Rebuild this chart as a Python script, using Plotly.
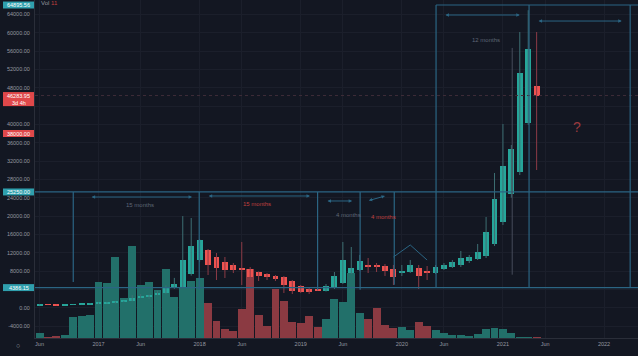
import plotly.graph_objects as go

# ---------------- data ----------------
months = [
    "2016-06", "2016-07", "2016-08", "2016-09", "2016-10", "2016-11", "2016-12",
    "2017-01", "2017-02", "2017-03", "2017-04", "2017-05", "2017-06", "2017-07",
    "2017-08", "2017-09", "2017-10", "2017-11", "2017-12",
    "2018-01", "2018-02", "2018-03", "2018-04", "2018-05", "2018-06", "2018-07",
    "2018-08", "2018-09", "2018-10", "2018-11", "2018-12",
    "2019-01", "2019-02", "2019-03", "2019-04", "2019-05", "2019-06", "2019-07",
    "2019-08", "2019-09", "2019-10", "2019-11", "2019-12",
    "2020-01", "2020-02", "2020-03", "2020-04", "2020-05", "2020-06", "2020-07",
    "2020-08", "2020-09", "2020-10", "2020-11", "2020-12",
    "2021-01", "2021-02", "2021-03", "2021-04", "2021-05",
]
open_ = [530, 670, 625, 575, 610, 700, 745,
         965, 1000, 1190, 1300, 1450, 2150, 2550, 2850, 3300, 4300, 4520, 7350,
         10400, 12590, 11060, 9970, 9320, 8660, 8440, 7790, 7350, 6920, 6700, 5820,
         4730, 4080, 3970, 3640, 4300, 5390, 7570, 8220, 9320, 9320, 9100, 8440,
         7570, 7790, 8660, 7790, 7570, 8440, 8880, 9320, 10190, 10620, 11280, 13900,
         18700, 24800, 29610, 40300, 48360]
high = [760, 700, 630, 630, 720, 750, 980,
        1150, 1200, 1350, 1500, 2750, 2980, 2900, 3700, 4900, 6500, 19990, 19570,
        15000, 12800, 11930, 11060, 9750, 14330, 8880, 7900, 7570, 7130, 6920, 6040,
        4950, 4300, 4190, 5170, 7790, 14330, 13240, 11500, 10840, 9750, 9530, 9320,
        9320, 10400, 9320, 9100, 9320, 9750, 10400, 12370, 11500, 13900, 19790, 29390,
        40080, 35500, 60140, 64895.56, 60140]
low = [520, 610, 530, 570, 600, 690, 740,
       750, 920, 890, 1200, 1400, 2100, 1850, 2700, 2950, 4100, 4400, 7000,
       10000, 7130, 6040, 6480, 7570, 4950, 6260, 5820, 6040, 5820, 3210, 2990,
       3210, 2990, 3750, 3530, 4080, 5170, 7350, 8000, 7570, 7790, 6920, 4950,
       6920, 7570, 4080, 6040, 7350, 8220, 8660, 8880, 9750, 10400, 10840, 13460,
       18040, 24000, 28950, 39860, 30040]
close = [670, 625, 575, 610, 700, 745, 960,
         1000, 1190, 1300, 1450, 2150, 2550, 2850, 3300, 4300, 5200, 10400, 13450,
         14770, 9320, 8660, 8220, 8220, 8220, 6700, 6920, 6700, 6260, 4950, 3640,
         3420, 3420, 3780, 4730, 6920, 10400, 8660, 10190, 8880, 8880, 8000, 6700,
         8000, 9320, 6920, 7570, 8880, 9320, 9970, 10840, 11060, 12150, 16510, 23710,
         30910, 34620, 51210, 56440, 46283.95]
volume = [5, 1, 2, 3, 21, 22, 23,
          56, 55, 81, 40, 92, 53, 56, 48, 69, 41, 51, 57,
          60, 35, 17, 9, 7, 29, 69, 23, 12, 49, 37, 16,
          15, 22, 11, 19, 39, 36, 65, 25, 19, 30, 13, 10,
          11, 8, 16, 12, 8, 5, 3, 3, 2, 4, 9, 10,
          9, 5, 1, 1, 1]

x_tick_months = ["2016-06", "2017-01", "2017-06", "2018-01", "2018-06", "2019-01",
                 "2019-06", "2020-01", "2020-06", "2021-01", "2021-06", "2022-01"]
x_tick_labels = ["Jun", "2017", "Jun", "2018", "Jun", "2019",
                 "Jun", "2020", "Jun", "2021", "Jun", "2022"]
y_ticks = list(range(-4000, 64001, 4000))
y_hidden_ticks = [44000, 4000]          # covered by price badges in the reference

last_price = 46283.95
ath_label = "64895.56"
level_red = 38000.00
level_mid = 25250.00
level_low = 4386.15

# ---------------- styling ----------------
BG = "#131722"
UP, DOWN = "#26a69a", "#ef5350"
UP_WICK, DOWN_WICK = "#3d6f73", "#8c3b46"
UP_VOL, DOWN_VOL = "#22706a", "#8b3a42"
DRAW = "#2b6583"
TXT = "#9598a1"
FONT = "Liberation Sans"

Y_MIN, Y_MAX = -6610, 67125
X_MIN, X_MAX = -7.54, 64.03


def midx(m):
    y, mo = m.split("-")
    return (int(y) - 2017) * 12 + int(mo) - 1


def ypaper(v):
    return (v - Y_MIN) / (Y_MAX - Y_MIN)


xs = [midx(m) for m in months]
up = [c >= o for o, c in zip(open_, close)]

fig = go.Figure()

# volume (base axis, drawn underneath)
fig.add_trace(go.Bar(
    x=xs, y=volume, width=0.94, yaxis="y",
    marker=dict(color=[UP_VOL if u else DOWN_VOL for u in up], line=dict(width=0)),
    hoverinfo="skip", showlegend=False))

# wicks
for flag, col in ((True, UP_WICK), (False, DOWN_WICK)):
    wx, wy = [], []
    for x, h, l, u in zip(xs, high, low, up):
        if u == flag:
            wx += [x, x, None]
            wy += [l, h, None]
    fig.add_trace(go.Scatter(x=wx, y=wy, mode="lines", yaxis="y2",
                             line=dict(color=col, width=1),
                             hoverinfo="skip", showlegend=False))

# bodies
fig.add_trace(go.Bar(
    x=xs, yaxis="y2", width=0.7,
    base=[min(o, c) for o, c in zip(open_, close)],
    y=[max(abs(c - o), 180) for o, c in zip(open_, close)],
    marker=dict(color=[UP if u else DOWN for u in up], line=dict(width=0)),
    showlegend=False))

shapes = []

def vline(m, y0, y1, color=DRAW, w=1.2):
    shapes.append(dict(type="line", xref="x", yref="y2", x0=m, x1=m, y0=y0, y1=y1,
                       line=dict(color=color, width=w)))

def hline(v, x0, x1, color=DRAW, w=1.2, dash="solid"):
    shapes.append(dict(type="line", xref="x", yref="y2", x0=x0, x1=x1, y0=v, y1=v,
                       line=dict(color=color, width=w, dash=dash)))

# current price line
hline(last_price, X_MIN, X_MAX, color="#3e2d38", w=1, dash="dot")
# horizontal levels
hline(level_mid, X_MIN, X_MAX)
hline(level_low, X_MIN, X_MAX)
hline(66030, 40.06, X_MAX)
# vertical markers
vline(-3.0, level_mid, 5600)
vline(11.95, level_mid, 3900)
vline(26.0, level_mid, 3900)
vline(31.05, level_mid, 3900)
vline(35.1, level_mid, 5000)
vline(40.06, 66030, 4500)
vline(51.1, 66030, 4500)
vline(63.1, 66030, 4500)
vline(49.1, 56670, 7200, color="#464c5a", w=1)
# small peak drawing near 2020
shapes.append(dict(type="path", xref="x", yref="y2",
                   path="M 35.0,11060 L 37.0,13680 L 39.0,10400",
                   line=dict(color=DRAW, width=1)))

annotations = []

def arrow(x0, y0, x1, y1):
    annotations.append(dict(x=x1, y=y1, ax=x0, ay=y0, xref="x", yref="y2",
                            axref="x", ayref="y2", text="", showarrow=True,
                            arrowhead=2, arrowside="end+start", arrowsize=0.7,
                            arrowwidth=1, arrowcolor=DRAW))

arrow(-1.0, 24150, 11.1, 24150)
arrow(12.9, 24370, 25.1, 24370)
arrow(27.0, 23280, 30.1, 23280)
arrow(31.9, 23280, 34.0, 24370)
arrow(41.0, 63850, 50.0, 63850)
arrow(52.05, 62540, 62.1, 62540)

def label(x, y, text, color, size=6):
    annotations.append(dict(x=x, y=y, xref="x", yref="y2", text=text, showarrow=False,
                            xanchor="center", yanchor="middle",
                            font=dict(family=FONT, size=size, color=color)))

label(4.9, 22400, "15 months", "#5f6675")
label(18.8, 22620, "15 months", "#c0403f")
label(29.7, 20220, "4 months", "#5f6675")
label(33.8, 19790, "4 months", "#c0403f")
label(46.0, 58400, "12 months", "#5f6675")
label(56.8, 39420, "?", "#9a3a3e", size=14)

# price badges on the left axis
BX0, BX1 = (3 - 35) / 603, (34 - 35) / 603
BXC = (BX0 + BX1) / 2
SPAN = Y_MAX - Y_MIN

def badge(v, text, color, half=760, sub=None):
    yc = ypaper(v)
    top = yc + half / SPAN
    bot = yc - half / SPAN - (1550 / SPAN if sub else 0)
    shapes.append(dict(type="rect", xref="paper", yref="paper", x0=BX0, x1=BX1,
                       y0=bot, y1=top, fillcolor=color, line=dict(width=0), layer="above"))
    annotations.append(dict(x=BXC, y=yc, xref="paper", yref="paper",
                            xanchor="center", yanchor="middle",
                            text=text, showarrow=False,
                            font=dict(family=FONT, size=5.5, color="#ffffff")))
    if sub:
        annotations.append(dict(x=BXC, y=yc - 1550 / SPAN,
                                xref="paper", yref="paper", text=sub, showarrow=False,
                                xanchor="center", yanchor="middle",
                                font=dict(family=FONT, size=5.5, color="#ffffff")))

badge(66030, ath_label, "#2f9fad")
badge(last_price, "46283.95", "#e0484a", sub="3d 4h")
badge(level_red, "38000.00", "#e0484a")
badge(level_mid, "25250.00", "#2f9fad")
badge(level_low, "4386.15", "#2f9fad")

annotations.append(dict(x=(39 - 35) / 603, y=1 - 3 / 338, xref="paper", yref="paper",
                        xanchor="left", yanchor="middle",
                        text="Vol <span style='color:#c0403f'>11</span>",
                        showarrow=False, font=dict(family=FONT, size=6, color=TXT)))
annotations.append(dict(x=(18 - 35) / 603, y=(338 - 345) / 338, xref="paper", yref="paper",
                        xanchor="center", yanchor="middle",
                        text="○", showarrow=False, font=dict(family=FONT, size=7, color=TXT)))

fig.update_layout(
    width=638, height=356,
    margin=dict(l=35, r=0, t=0, b=18),
    paper_bgcolor=BG, plot_bgcolor=BG,
    barmode="overlay", bargap=0, showlegend=False,
    font=dict(family=FONT, color=TXT, size=6),
    xaxis=dict(range=[X_MIN, X_MAX], tickvals=[midx(m) for m in x_tick_months],
               ticktext=x_tick_labels, showgrid=True, gridcolor="#1b1f2b", gridwidth=1,
               zeroline=False, showline=True, linecolor="#2a2e39", ticks="",
               tickfont=dict(size=5.5, color=TXT, family=FONT)),
    yaxis=dict(range=[0, 338], visible=False, showgrid=False, zeroline=False),
    yaxis2=dict(range=[Y_MIN, Y_MAX], overlaying="y", side="left", anchor="x",
                tickvals=y_ticks,
                ticktext=["" if t in y_hidden_ticks else f"{t:.2f}" for t in y_ticks],
                showgrid=True, gridcolor="#1b1f2b",
                zeroline=False, showline=True, linecolor="#2a2e39", ticks="",
                ticklabelstandoff=3, tickfont=dict(size=5.5, color=TXT, family=FONT)),
    shapes=shapes, annotations=annotations,
)

fig.write_html("out.html", config={"displayModeBar": False},
               post_script="document.body.style.margin='0';"
                           "document.body.style.background='%s';" % BG)
